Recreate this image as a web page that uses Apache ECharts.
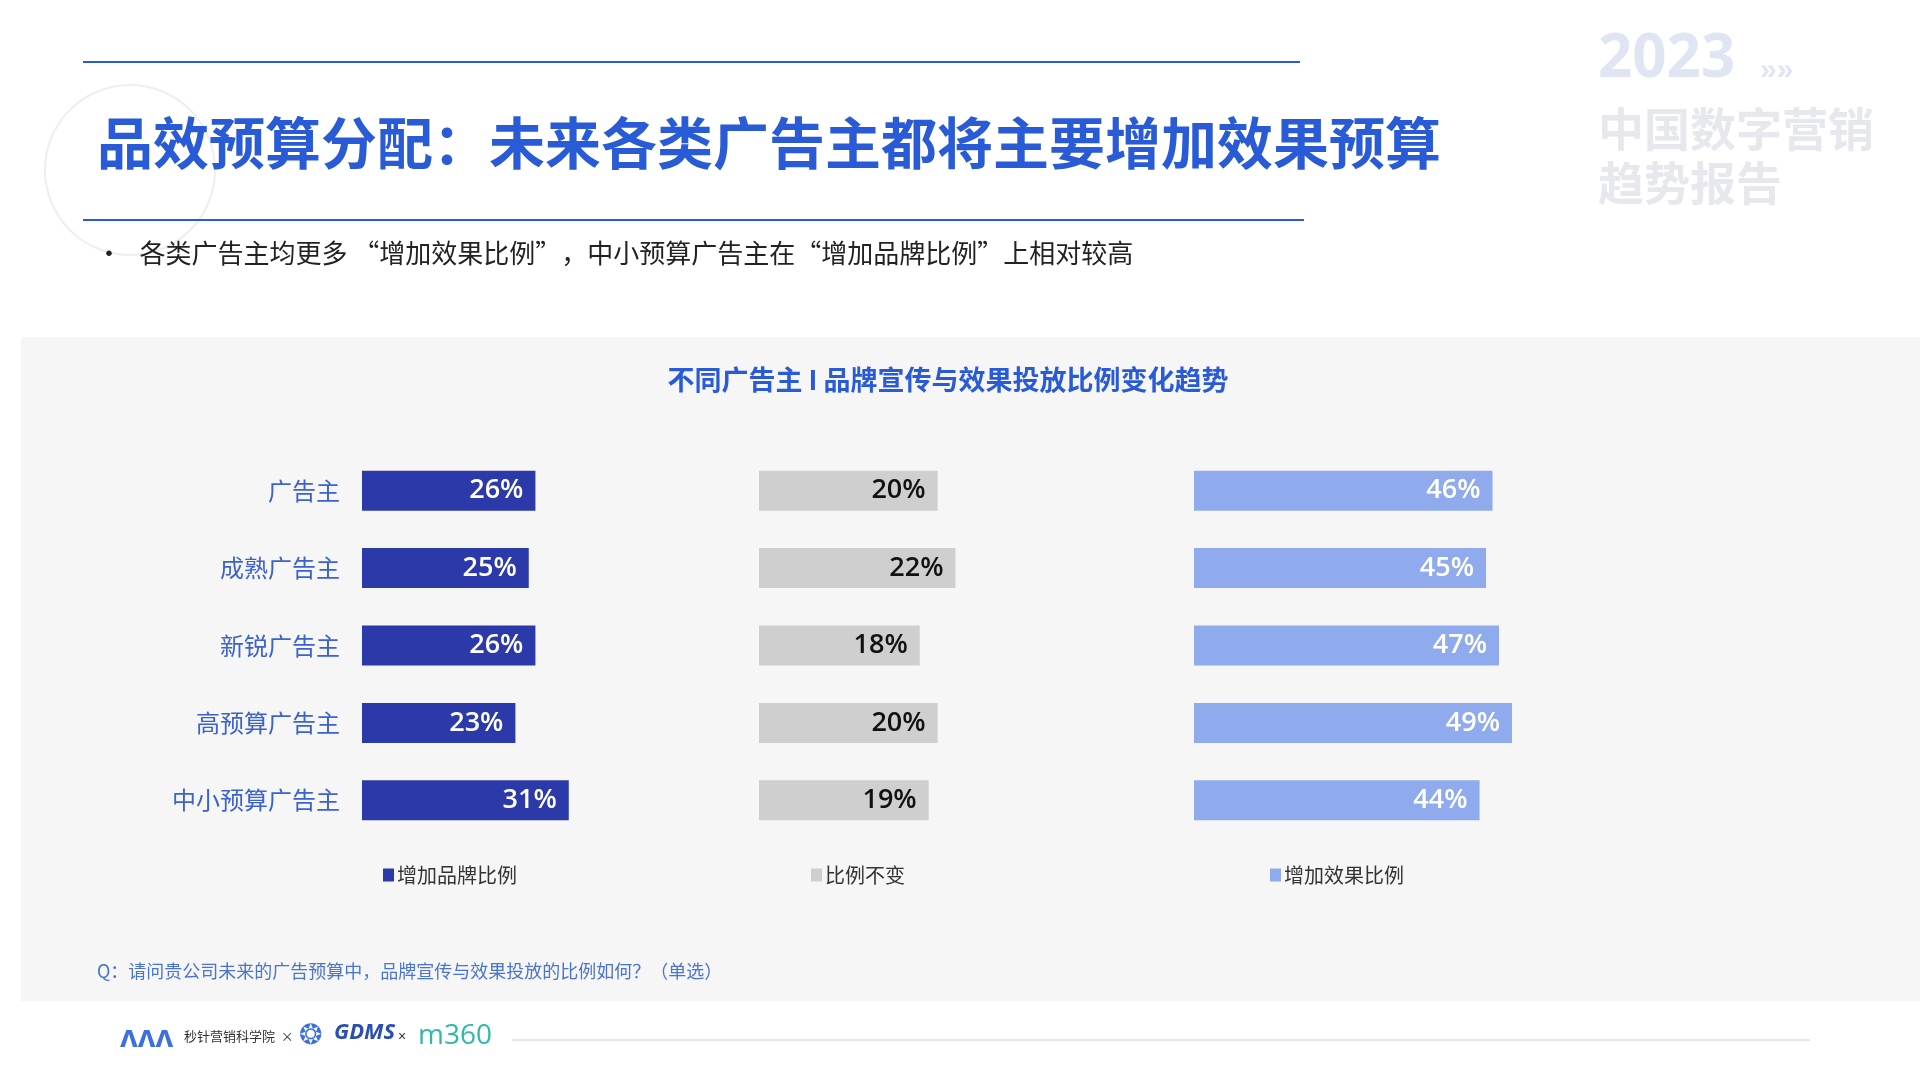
<!DOCTYPE html>
<html>
<head>
<meta charset="utf-8">
<script src="https://cdn.jsdelivr.net/npm/echarts@6/dist/echarts.min.js"></script>
<style>
  html, body { margin: 0; padding: 0; background: #fff; }
  #chart { width: 1920px; height: 1080px; }
</style>
</head>
<body>
<div id="chart"></div>
<script>
var categories = ['广告主', '成熟广告主', '新锐广告主', '高预算广告主', '中小预算广告主'];
var brandUp = [26, 25, 26, 23, 31];
var unchanged = [20, 22, 18, 20, 19];
var effectUp = [46, 45, 47, 49, 44];
var seriesNames = ['增加品牌比例', '比例不变', '增加效果比例'];

var myChart = echarts.init(document.getElementById('chart'));

var blue = '#2a5bd7';
var font = '"Noto Sans CJK SC", "Noto Sans", sans-serif';

function grid(left, width) {
  return { left: left, width: width, top: 452, height: 387 };
}
function xAxis(i) {
  return { gridIndex: i, type: 'value', min: 0, max: 100, show: false };
}
function yAxis(i, showLabels) {
  return {
    gridIndex: i, type: 'category', data: categories, inverse: true,
    axisLine: { show: false }, axisTick: { show: false }, splitLine: { show: false },
    axisLabel: {
      show: showLabels, color: '#3b62cf', fontSize: 24, margin: 22, fontFamily: font
    }
  };
}
function bar(i, name, data, color, labelColor) {
  return {
    name: name, type: 'bar', xAxisIndex: i, yAxisIndex: i, data: data,
    barWidth: 40, itemStyle: { color: color },
    label: {
      show: true, position: 'insideRight', distance: 12,
      formatter: '{c}%', color: labelColor, fontSize: 27, fontWeight: 600,
      fontFamily: '"Open Sans", sans-serif'
    }
  };
}
function legend(name, left) {
  return {
    data: [name], left: left, top: 860, itemWidth: 11, itemHeight: 13, itemGap: 4,
    icon: 'rect', selectedMode: false,
    textStyle: { fontSize: 20, color: '#333', fontFamily: font, padding: [0, 0, 0, -2] }
  };
}

myChart.setOption({
  backgroundColor: '#fff',
  animation: false,
  title: {
    text: '不同广告主 I 品牌宣传与效果投放比例变化趋势',
    left: 943, top: 361, textAlign: 'center',
    textStyle: { color: blue, fontSize: 27, fontWeight: 'bold', fontFamily: font }
  },
  legend: [legend(seriesNames[0], 378), legend(seriesNames[1], 806), legend(seriesNames[2], 1265)],
  grid: [grid(362, 667), grid(759, 893), grid(1194, 649)],
  xAxis: [xAxis(0), xAxis(1), xAxis(2)],
  yAxis: [yAxis(0, true), yAxis(1, false), yAxis(2, false)],
  series: [
    bar(0, seriesNames[0], brandUp, '#2b3aa8', '#fff'),
    bar(1, seriesNames[1], unchanged, '#d0cfcf', '#111'),
    bar(2, seriesNames[2], effectUp, '#8fabee', '#fff')
  ],
  graphic: [
    { type: 'rect', z: -10, shape: { x: 21, y: 337, width: 1899, height: 664 }, style: { fill: '#f6f6f6' } },
    { type: 'circle', z: -9, shape: { cx: 130, cy: 170, r: 85 }, style: { fill: 'none', stroke: '#eceef3', lineWidth: 2 } },
    { type: 'line', shape: { x1: 83, y1: 62, x2: 1300, y2: 62 }, style: { stroke: blue, lineWidth: 2 } },
    { type: 'line', shape: { x1: 83, y1: 220, x2: 1304, y2: 220 }, style: { stroke: blue, lineWidth: 2 } },
    { type: 'text', left: 97, top: 115, style: { text: '品效预算分配：未来各类广告主都将主要增加效果预算', fill: blue, font: 'bold 56px ' + font } },
    { type: 'text', left: 96, top: 240, style: { text: '•   各类广告主均更多 “增加效果比例”，中小预算广告主在“增加品牌比例”上相对较高', fill: '#222', font: '26px ' + font } },
    { type: 'text', left: 1598, top: 30, style: { text: '2023', fill: '#dfe5f3', font: 'bold 60px "Open Sans", sans-serif' } },
    { type: 'text', left: 1760, top: 56, style: { text: '»»', fill: '#dfe5f3', font: 'bold 30px sans-serif' } },
    { type: 'text', left: 1598, top: 102, style: { text: '中国数字营销\n趋势报告', fill: '#e6e8ee', font: 'bold 46px ' + font, lineHeight: 54 } },
    { type: 'text', left: 97, top: 962, style: { text: 'Q：请问贵公司未来的广告预算中，品牌宣传与效果投放的比例如何？（单选）', fill: '#4a74d0', font: '18px ' + font } },
    { type: 'text', left: 120, top: 1022, style: { text: 'ʌʌʌ', fill: '#3d6fe0', font: 'bold 32px sans-serif' } },
    { type: 'text', left: 184, top: 1030, style: { text: '秒针营销科学院  ×', fill: '#333', font: '13px ' + font } },
    { type: 'text', left: 299, top: 1022, style: { text: '❂', fill: '#3d6fe0', font: '28px sans-serif' } },
    { type: 'text', left: 334, top: 1022, style: { text: 'GDMS', fill: '#2b4fb0', font: 'italic bold 22px "Open Sans", sans-serif' } },
    { type: 'text', left: 398, top: 1030, style: { text: '×', fill: '#333', font: '14px sans-serif' } },
    { type: 'text', left: 418, top: 1022, style: { text: 'm360', fill: '#2fb9a8', font: '28px "Open Sans", sans-serif' } },
    { type: 'line', shape: { x1: 512, y1: 1040, x2: 1810, y2: 1040 }, style: { stroke: '#ccc', lineWidth: 1 } }
  ]
});
</script>
</body>
</html>
